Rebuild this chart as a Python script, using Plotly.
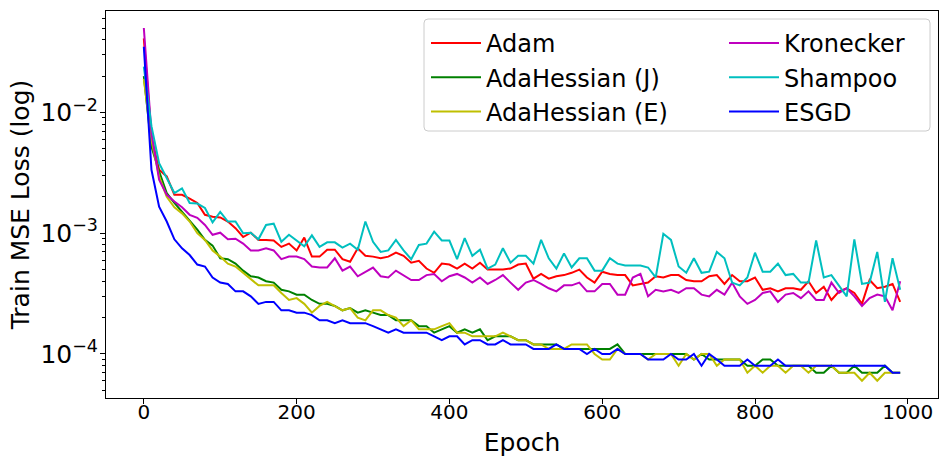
import plotly.graph_objects as go
import numpy as np

# ---------------- data ----------------
epochs = list(range(0, 1000, 10))

# Adam, units of 1e-4
adam_e4 = [410, 63, 33.5, 29.5, 20.8, 20.8, 19.3, 17.8, 14.2, 13.7, 13.5, 12.5, 11, 9.3, 10.1, 8.8, 8.8, 8.7, 7.7, 8.2,
           7.2, 9.2, 6.4, 6.4, 7.3, 7.3, 6.1, 5.8, 7.5, 6.5, 6.4,
           6.2, 6.4, 6.9, 6.5, 5.7, 5.9, 5.1, 4.7, 5.6, 5.5, 5.1, 5.6, 5.1, 5.7, 5.0, 5.0, 5.0, 5.1, 5.5, 5.6,
           4.2, 4.6, 4.2, 4.4, 4.5, 4.7, 5.0, 4.3, 3.9, 4.8, 4.6, 4.5, 4.5, 3.7, 3.8, 3.9, 4.4,
           4.3, 4.5, 4.5, 4.1, 4.0, 4.0, 4.4, 4.5, 3.8, 4.5, 4.0, 4.0, 4.3, 3.4, 3.5, 3.3,
           3.5, 3.5, 3.4, 4.0, 3.2, 3.6, 2.8, 3.3, 3.5, 3.2, 2.6, 4.1, 3.5, 3.6, 3.8, 2.7]

# AdaHessian (J), units of 1e-5
adah_j_e5 = [2000, 520, 325, 215, 178, 150, 129, 107, 88, 79, 62, 61, 56, 49, 44, 43, 40, 39, 34, 33,
             31, 31, 28, 26, 26, 25, 23, 24, 22, 23, 22,
             21, 21, 19, 19, 19, 17, 17, 15, 16, 17, 15, 16, 15, 16, 13, 14, 14, 14, 13, 13,
             12, 12, 12, 12, 11, 11, 11, 11, 11, 11, 11, 12, 10, 10, 10, 10, 10,
             10, 10, 10, 10, 9, 10, 9, 9, 9, 9, 9, 8, 8, 9, 9, 8,
             8, 8, 8, 8, 7, 7, 8, 7, 7, 8, 7, 7, 7, 8, 7, 7]

# AdaHessian (E), units of 1e-5
adah_e_e5 = [1900, 590, 295, 200, 164, 146, 125, 100, 88, 72, 64, 56, 53, 47, 41, 37, 37, 37, 32, 28,
             29, 26, 22, 25, 27, 25, 23, 24, 20, 19, 23,
             23, 21, 20, 17, 19, 16, 16, 16, 17, 18, 15, 15, 14, 14, 14, 14, 15, 14, 13, 13,
             12, 12, 11, 11, 11, 12, 12, 12, 10, 9, 9, 11, 10, 10, 10, 9, 10,
             10, 10, 8, 10, 9, 10, 10, 8, 9, 9, 9, 7, 8, 7, 8, 8,
             7, 8, 8, 7, 8, 8, 8, 7, 7, 7, 6, 7, 6, 7, 7, 7]

# Kronecker, units of 1e-4
kron_e4 = [500, 67.5, 27.7, 20.8, 18.3, 16.4, 14.2, 13.4, 11.7, 9.7, 10.1, 8.9, 9.0, 8.2, 7.2, 7.2, 7.5, 7.2, 6.1, 6.4,
           6.4, 6.1, 5.3, 5.2, 5.2, 6.2, 4.9, 5.3, 4.4, 4.8, 5.2,
           4.4, 4.3, 4.9, 4.5, 4.1, 4.1, 4.5, 4.6, 4.0, 4.4, 4.6, 4.3, 3.9, 4.3, 3.8, 4.1, 4.5, 3.9, 3.4, 3.9,
           4.1, 3.8, 3.5, 3.3, 3.7, 3.7, 3.9, 3.3, 3.3, 3.8, 3.8, 3.1, 3.1, 4.3, 4.6, 3.0, 3.4,
           3.3, 3.4, 3.2, 3.5, 3.5, 3.1, 3.0, 3.4, 3.1, 3.9, 3.0, 2.6, 2.8, 3.2, 3.3, 2.7,
           3.1, 3.2, 2.9, 3.3, 2.8, 2.8, 3.9, 3.2, 3.5, 3.0, 2.5, 2.9, 3.1, 3.0, 2.3, 4.0]

# Shampoo, units of 1e-4
shampoo_e4 = [240, 77, 38, 28.6, 21.5, 23.5, 17.8, 17.6, 16.2, 12.3, 15, 12.5, 12.5, 10, 10.1, 8.9, 11.7, 12, 8.5, 9.7,
              8.7, 7.8, 9.6, 7.7, 8.4, 8.4, 7.6, 8.2, 7.3, 12.5, 8.5,
              7.0, 7.2, 8.8, 7.2, 6.1, 8.0, 8.2, 10.3, 8.7, 8.7, 6.1, 9.1, 6.5, 7.3, 5.1, 5.5, 7.5, 5.7, 6.5, 6.5,
              5.6, 8.8, 6.2, 5.1, 6.8, 5.2, 6.2, 6.2, 4.9, 4.9, 6.2, 5.6, 5.4, 5.4, 5.4, 5.2, 4.3,
              9.9, 8.8, 5.3, 4.7, 6.2, 4.7, 4.8, 7.0, 6.2, 3.9, 3.7, 4.3, 6.9, 4.8, 4.8, 5.6,
              4.5, 4.6, 3.9, 3.9, 8.7, 4.3, 4.5, 3.7, 3.0, 8.9, 3.8, 3.9, 7.0, 2.7, 6.2, 3.4]

# ESGD, units of 1e-5
esgd_e5 = [3500, 335, 166, 125, 89, 75, 66, 55, 53, 43, 39, 38, 33, 33, 30, 26, 27, 27, 23, 23,
           22, 22, 21, 19, 19, 18, 19, 18, 18, 18, 17,
           16, 15, 16, 15, 15, 15, 15, 14, 13, 14, 14, 12, 13, 13, 12, 12, 13, 12, 12, 12,
           11, 11, 11, 12, 11, 11, 11, 10, 11, 10, 10, 11, 10, 10, 10, 9, 9,
           9, 10, 9, 9, 10, 8, 10, 9, 8, 8, 8, 9, 8, 8, 8, 9,
           8, 8, 8, 8, 8, 8, 8, 8, 8, 8, 8, 8, 8, 8, 7, 7]

series_names = ["Adam", "AdaHessian (J)", "AdaHessian (E)", "Kronecker", "Shampoo", "ESGD"]
series_values = [np.array(adam_e4) * 1e-4, np.array(adah_j_e5) * 1e-5, np.array(adah_e_e5) * 1e-5,
                 np.array(kron_e4) * 1e-4, np.array(shampoo_e4) * 1e-4, np.array(esgd_e5) * 1e-5]
x_ticks = [0, 200, 400, 600, 800, 1000]

# ---------------- style ----------------
colors = ["#ff0000", "#008000", "#bfbf00", "#bf00bf", "#00bfbf", "#0000ff"]
legends = ["legend", "legend", "legend", "legend2", "legend2", "legend2"]
FONT = "DejaVu Sans"

fig = go.Figure()
for name, vals, col, lg in zip(series_names, series_values, colors, legends):
    fig.add_trace(go.Scatter(x=epochs, y=vals, mode="lines", name=name,
                             line=dict(color=col, width=2), legend=lg, legendgroup=name))

L, R, T, B = 106, 2, 11, 66
W, H = 940, 464
pw, ph = W - L - R, H - T - B

def px_x(p):
    return (p - L) / pw

def px_y(p):
    return 1 - (p - T) / ph

# legend frame (rounded rectangle)
fx0, fx1 = px_x(424), px_x(930)
fy0, fy1 = px_y(131), px_y(19)
rx, ry = 4 / pw, 4 / ph
path = (f"M{fx0+rx},{fy1} L{fx1-rx},{fy1} Q{fx1},{fy1} {fx1},{fy1-ry} "
        f"L{fx1},{fy0+ry} Q{fx1},{fy0} {fx1-rx},{fy0} L{fx0+rx},{fy0} "
        f"Q{fx0},{fy0} {fx0},{fy0+ry} L{fx0},{fy1-ry} Q{fx0},{fy1} {fx0+rx},{fy1} Z")
fig.add_shape(type="path", path=path, xref="paper", yref="paper",
              line=dict(color="#cccccc", width=1), fillcolor="rgba(255,255,255,0.8)", layer="below")

leg_common = dict(xanchor="left", yanchor="top", bgcolor="rgba(0,0,0,0)", borderwidth=0,
                  font=dict(family=FONT, size=24, color="black"), itemwidth=50,
                  tracegroupgap=5, traceorder="normal")

fig.update_layout(
    width=W, height=H,
    margin=dict(l=L, r=R, t=T, b=B, pad=0),
    paper_bgcolor="white", plot_bgcolor="white",
    font=dict(family=FONT, color="black"),
    showlegend=True,
    hovermode=False,
    legend=dict(x=px_x(426), y=px_y(21), **leg_common),
    legend2=dict(x=px_x(724), y=px_y(21), **leg_common),
    xaxis=dict(range=[-49.5, 1039.5], tickvals=x_ticks, ticks="outside", ticklen=5, tickwidth=1,
               tickcolor="black", showline=True, linecolor="black", linewidth=1, mirror=True,
               showgrid=False, zeroline=False, tickfont=dict(family=FONT, size=20, color="black"),
               ticklabelstandoff=-9,
               title=dict(text="Epoch", font=dict(family=FONT, size=25, color="black"), standoff=10)),
    yaxis=dict(type="log", range=[-4.3645, -1.160], dtick=1, exponentformat="power",
               ticks="outside", ticklen=5, tickwidth=1, tickcolor="black",
               showline=True, linecolor="black", linewidth=1, mirror=True,
               showgrid=False, zeroline=False, tickfont=dict(family=FONT, size=20, color="black"),
               ticklabelstandoff=-2,
               minor=dict(ticks="outside", ticklen=3, tickwidth=1, tickcolor="black", dtick="D1", showgrid=False),
               title=dict(text="Train MSE Loss (log)", font=dict(family=FONT, size=25, color="black"), standoff=3)),
)

fig.write_html("out.html", config={"displayModeBar": False},
               post_script="document.body.style.margin='0px';")
